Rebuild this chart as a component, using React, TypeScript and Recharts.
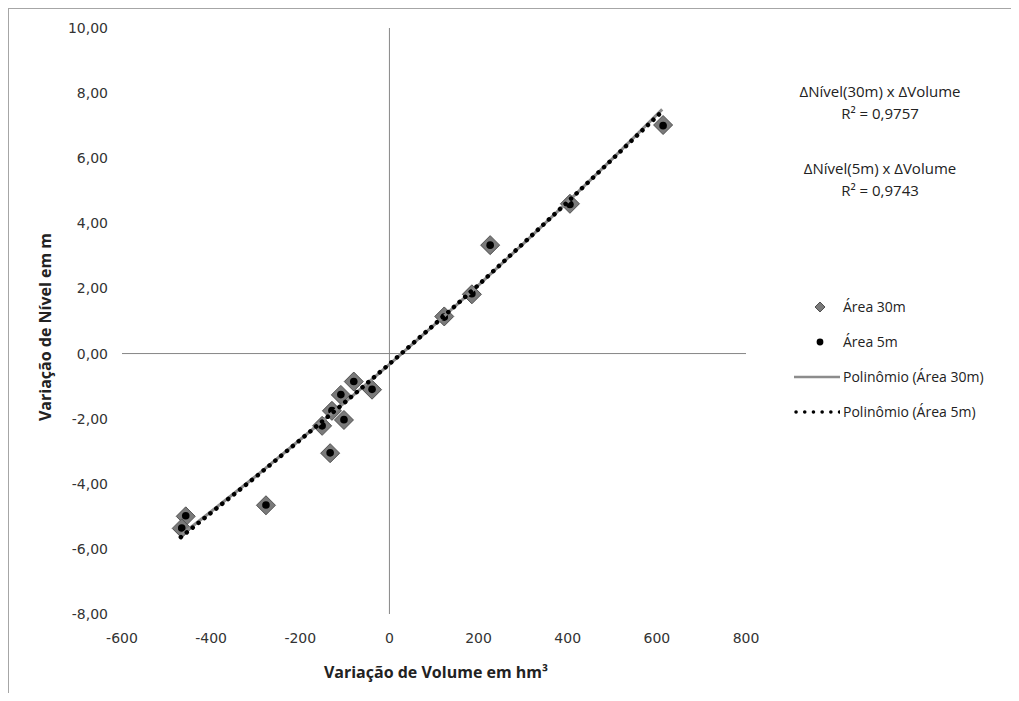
import { ScatterChart, Scatter, XAxis, YAxis, ReferenceLine, Legend } from "recharts";

// leituras do gráfico original (volume em hm³, nível em m)
const volume = [614, 405, 226, 185, 123, -39, -80, -109, -102, -129, -151, -133, -277, -457, -466];
const nivel30 = [7.02, 4.6, 3.33, 1.82, 1.14, -1.11, -0.86, -1.27, -2.04, -1.76, -2.22, -3.06, -4.66, -5.0, -5.37];
const nivel5 = [7.0, 4.58, 3.33, 1.84, 1.12, -1.1, -0.86, -1.26, -2.03, -1.75, -2.22, -3.05, -4.65, -4.98, -5.36];

// linhas de tendência
const trendVol = [-468, -400, -300, -200, -100, 0, 100, 200, 300, 400, 500, 612];
const trend30 = [-5.58, -4.85, -3.77, -2.64, -1.5, -0.33, 0.87, 2.1, 3.37, 4.66, 5.98, 7.5];
const trend5 = [-5.64, -4.89, -3.79, -2.65, -1.5, -0.32, 0.88, 2.11, 3.38, 4.66, 5.97, 7.44];

const xTicks = [-600, -400, -200, 0, 200, 400, 600, 800];
const yTicks = [-8, -6, -4, -2, 0, 2, 4, 6, 8, 10];

const pts = (xs: number[], ys: number[]) => xs.map((x, i) => ({ x, y: ys[i] }));

const data30 = pts(volume, nivel30);
const data5 = pts(volume, nivel5);
const line30 = pts(trendVol, trend30);
const line5 = pts(trendVol, trend5);

const textFont = "'Open Sans', sans-serif";

function Diamond(props: any) {
  const { cx, cy } = props;
  const r = 9.5;
  return (
    <polygon
      points={`${cx},${cy - r} ${cx + r},${cy} ${cx},${cy + r} ${cx - r},${cy}`}
      fill="#7a7a7a"
      stroke="#505050"
      strokeWidth={1}
    />
  );
}

function Dot(props: any) {
  return <circle cx={props.cx} cy={props.cy} r={3.8} fill="#000" />;
}

const legendItems = [
  { name: "Área 30m", icon: "diamond" },
  { name: "Área 5m", icon: "dot" },
  { name: "Polinômio (Área 30m)", icon: "line" },
  { name: "Polinômio (Área 5m)", icon: "dotted" },
];

function LegendIcon({ kind }: { kind: string }) {
  return (
    <svg width={50} height={16} style={{ flex: "none" }}>
      {kind === "diamond" && <polygon points="30,3 35,8 30,13 25,8" fill="#7a7a7a" stroke="#505050" />}
      {kind === "dot" && <circle cx={30} cy={8} r={3.4} fill="#000" />}
      {kind === "line" && <line x1={4} x2={50} y1={8} y2={8} stroke="#8c8c8c" strokeWidth={2.5} />}
      {kind === "dotted" && (
        <line x1={6} x2={50} y1={8} y2={8} stroke="#000" strokeWidth={3.5} strokeDasharray="0.1 8.6" strokeLinecap="round" />
      )}
    </svg>
  );
}

function ChartLegend() {
  return (
    <div style={{ fontFamily: textFont, fontSize: 14, color: "#222" }}>
      {legendItems.map((it) => (
        <div key={it.name} style={{ display: "flex", alignItems: "center", height: 35, whiteSpace: "nowrap" }}>
          <LegendIcon kind={it.icon} />
          <span style={{ marginLeft: 3 }}>{it.name}</span>
        </div>
      ))}
    </div>
  );
}

export default function App() {
  return (
    <div
      style={{
        position: "relative",
        width: 1010,
        height: 692,
        marginBottom: -8,
        borderLeft: "1px solid #a6a6a6",
        borderTop: "1px solid #a6a6a6",
        background: "#fff",
        overflow: "hidden",
      }}
    >
      <ScatterChart width={1002} height={684} margin={{ top: 19, right: 265, left: 53, bottom: 49 }}>
        <XAxis
          type="number"
          dataKey="x"
          domain={[-600, 800]}
          ticks={xTicks}
          axisLine={false}
          tickLine={false}
          tickSize={6}
          tickMargin={13}
          height={30}
          tick={{ fontSize: 14, fill: "#333", fontFamily: "'DejaVu Sans', sans-serif" }}
        />
        <YAxis
          type="number"
          dataKey="y"
          domain={[-8, 10]}
          ticks={yTicks}
          axisLine={false}
          tickLine={false}
          tickSize={6}
          tickMargin={8}
          width={60}
          tickFormatter={(v: number) => v.toFixed(2).replace(".", ",")}
          tick={{ fontSize: 14, fill: "#333", fontFamily: "'DejaVu Sans', sans-serif" }}
        />
        <ReferenceLine x={0} stroke="#868686" strokeWidth={1} />
        <ReferenceLine y={0} stroke="#868686" strokeWidth={1} />
        <Legend
          layout="horizontal"
          verticalAlign="middle"
          align="center"
          content={() => <ChartLegend />}
          wrapperStyle={{ position: "absolute", left: 781, top: 280, width: 230 }}
        />
        <Scatter name="Área 30m" data={data30} shape={Diamond} isAnimationActive={false} />
        <Scatter name="Área 5m" data={data5} shape={Dot} isAnimationActive={false} />
        <Scatter
          name="Polinômio (Área 30m)"
          data={line30}
          line={{ stroke: "#8c8c8c", strokeWidth: 3 }}
          lineType="joint"
          shape={() => <g />}
          isAnimationActive={false}
        />
        <Scatter
          name="Polinômio (Área 5m)"
          data={line5}
          line={{ stroke: "#000", strokeWidth: 4.5, strokeDasharray: "0.1 7.5", strokeLinecap: "round" }}
          lineType="joint"
          shape={() => <g />}
          isAnimationActive={false}
        />
      </ScatterChart>

      <div
        style={{
          position: "absolute",
          left: 36,
          top: 318,
          transform: "translate(-50%, -50%) rotate(-90deg)",
          whiteSpace: "nowrap",
          fontFamily: textFont,
          fontWeight: 700,
          fontSize: 16,
          color: "#222",
        }}
      >
        Variação de Nível em m
      </div>
      <div
        style={{
          position: "absolute",
          left: 427,
          top: 663,
          transform: "translate(-50%, -50%)",
          whiteSpace: "nowrap",
          fontFamily: textFont,
          fontWeight: 700,
          fontSize: 16,
          color: "#222",
        }}
      >
        Variação de Volume em hm³
      </div>

      <div
        style={{
          position: "absolute",
          left: 771,
          top: 71,
          width: 200,
          textAlign: "center",
          fontFamily: textFont,
          fontSize: 15,
          lineHeight: "22px",
          color: "#222",
        }}
      >
        <div>ΔNível(30m) x ΔVolume</div>
        <div>R² = 0,9757</div>
        <div style={{ marginTop: 33 }}>ΔNível(5m) x ΔVolume</div>
        <div>R² = 0,9743</div>
      </div>
    </div>
  );
}
